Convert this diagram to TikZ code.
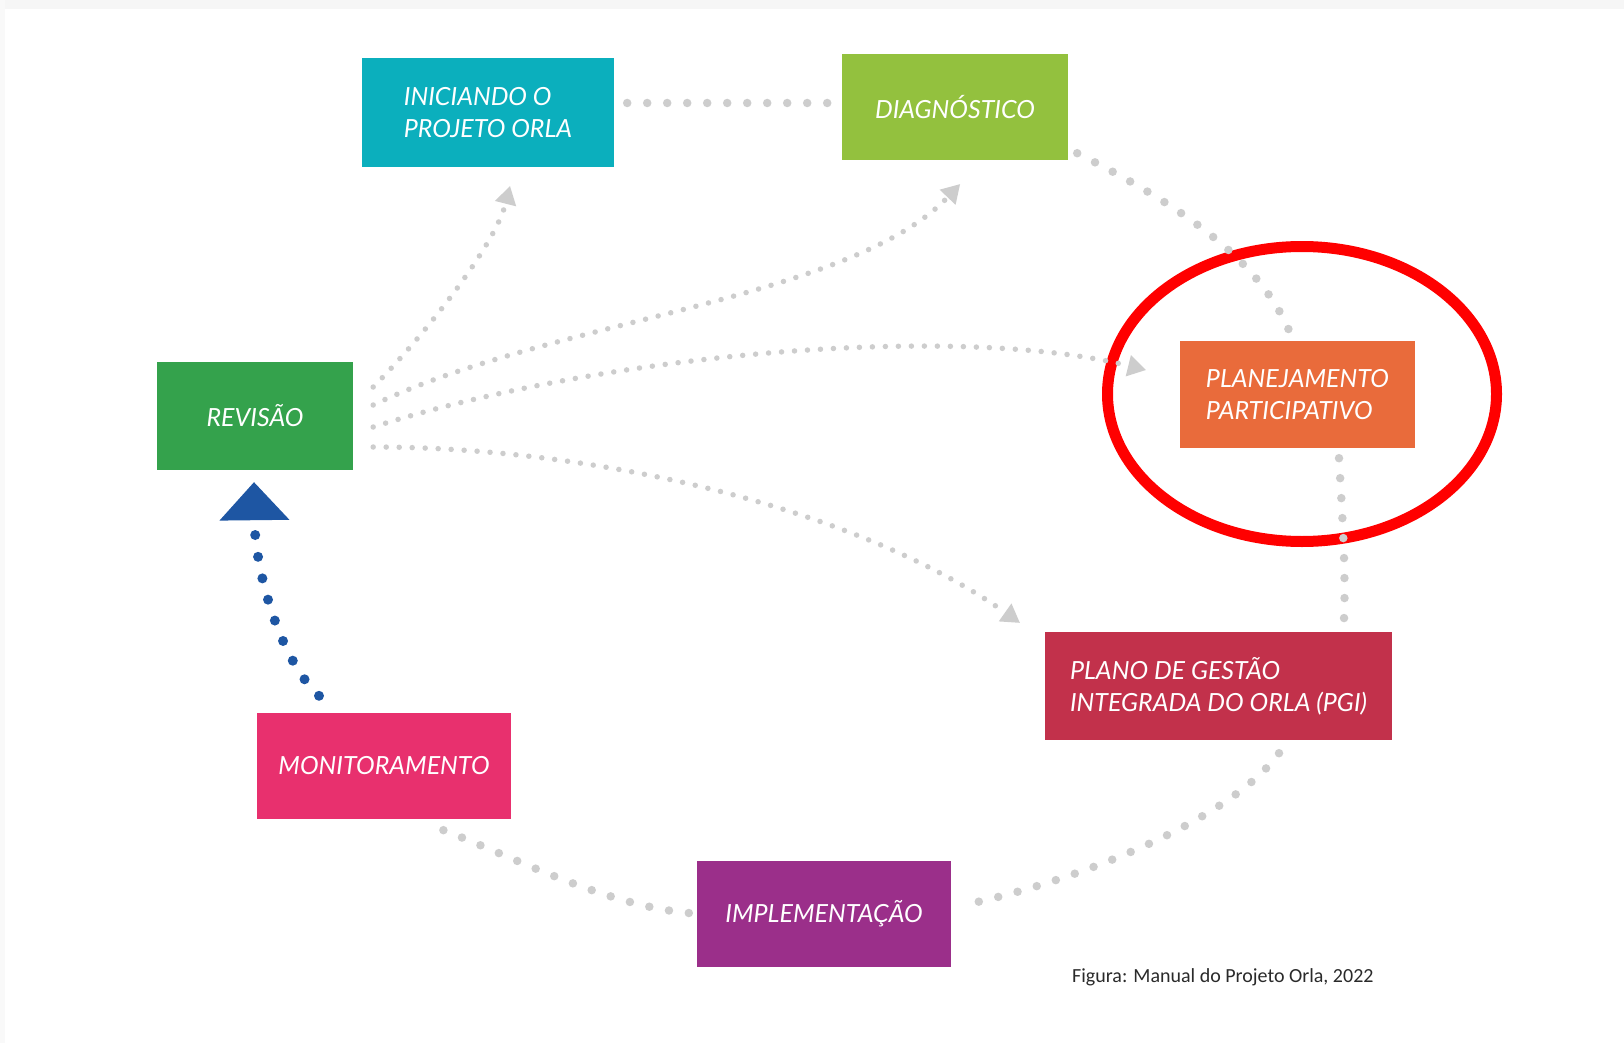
\documentclass[tikz,border=0pt]{standalone}
\usepackage{fontspec}
\newfontfamily\boxfont{Lato}
\newfontfamily\capfont{Carlito}
\usetikzlibrary{arrows.meta,shapes.geometric}
\definecolor{cIni}{HTML}{0BAFBD}
\definecolor{cDiag}{HTML}{93C13E}
\definecolor{cRev}{HTML}{34A24C}
\definecolor{cPlan}{HTML}{E96B3B}
\definecolor{cPgi}{HTML}{C2314B}
\definecolor{cMoni}{HTML}{E8306E}
\definecolor{cImpl}{HTML}{9B2F8A}
\definecolor{cBlue}{HTML}{1E56A3}
\definecolor{dotgray}{HTML}{CDCDCD}
\definecolor{cRed}{HTML}{FF0000}
\definecolor{capgray}{HTML}{2A2A2A}
\begin{document}
\begin{tikzpicture}[x=1pt,y=-1pt,
  box/.style={draw=none, inner sep=0pt, text=white, align=left,
    font=\boxfont\itshape\fontsize{25}{32}\selectfont},
  bigdots/.style={draw=dotgray, line width=8.5pt, line cap=round, dash pattern=on 0pt off 20pt},
  smalldots/.style={draw=dotgray, line width=5.5pt, line cap=round, dash pattern=on 0pt off 13pt,
    -{Triangle[length=18pt,width=22pt,line width=0pt,fill=dotgray]}},
  bluedots/.style={draw=cBlue, line width=10pt, line cap=round, dash pattern=on 0pt off 22pt,
    -{Triangle[length=38pt,width=70pt,line width=0pt,fill=cBlue]}}]
\useasboundingbox (0,0) rectangle (1624,1043);
\fill[white] (0,0) rectangle (1624,1043);
\fill[gray!7] (0,0) rectangle (1624,9);
\fill[gray!5] (0,0) rectangle (5,1043);

% boxes
\node[box, fill=cIni, minimum width=252pt, minimum height=109pt] (ini) at (488,112.5) {INICIANDO O\\PROJETO ORLA};
\node[box, fill=cDiag, minimum width=226pt, minimum height=106pt] (diag) at (955,107) {DIAGNÓSTICO};
\node[box, fill=cRev, minimum width=196pt, minimum height=108pt] (rev) at (255,416) {REVISÃO};
\node[box, fill=cPlan, minimum width=235pt, minimum height=107pt] (plan) at (1297.5,394.5) {PLANEJAMENTO\\PARTICIPATIVO};
\node[box, fill=cPgi, minimum width=347pt, minimum height=108pt] (pgi) at (1218.5,686) {PLANO DE GESTÃO\\INTEGRADA DO ORLA (PGI)};
\node[box, fill=cMoni, minimum width=254pt, minimum height=106pt] (moni) at (384,766) {MONITORAMENTO};
\node[box, fill=cImpl, minimum width=254pt, minimum height=106pt] (impl) at (824,914) {IMPLEMENTAÇÃO};

% red ellipse
\node[draw=cRed, line width=11pt, ellipse, minimum width=389pt, minimum height=295pt, inner sep=0pt] (ring) at (1302,394) {};

% cycle connectors
\draw[bigdots] ([shift={(13,-9.5)}]ini.east) -- ([shift={(-13,-4)}]diag.west);
\draw[bigdots] ([shift={(9,-7)}]diag.south east) .. controls (1180,205) and (1260,260) .. ([shift={(-7.5,-8)}]plan.north);
\draw[bigdots] ([shift={(41.5,10)}]plan.south) .. controls (1342,510) and (1346,570) .. ([shift={(125.5,-13)}]pgi.north);
\draw[bigdots] ([shift={(60.5,13)}]pgi.south) .. controls (1230,820) and (1080,880) .. ([shift={(17,-10)}]impl.east);
\draw[bigdots] ([shift={(-8,-1)}]impl.west) .. controls (600,905) and (500,850) .. ([shift={(46,6)}]moni.south);

% revision fan
\draw[smalldots] ([shift={(20,-29)}]rev.east) .. controls (425,335) and (495,245) .. ([shift={(22,19)}]ini.south);
\draw[smalldots] ([shift={(20,-11)}]rev.east) .. controls (550,320) and (850,300) .. ([shift={(5,24)}]diag.south);
\draw[smalldots] ([shift={(20,11)}]rev.east) .. controls (600,355) and (950,322) .. ([shift={(-34,-24.5)}]plan.west);
\draw[smalldots] ([shift={(20,31)}]rev.east) .. controls (600,447) and (860,510) .. ([shift={(-25,-9)}]pgi.north west);

% monitoring to revision
\draw[bluedots] ([shift={(-65,-17)}]moni.north) .. controls (280,660) and (255,570) .. ([shift={(-1,12)}]rev.south);

% caption
\node[anchor=base west, inner sep=0pt, text=capgray, font=\capfont\fontsize{20}{24}\selectfont] (cap) at (1072,982) {Figura: Manual do Projeto Orla, 2022};
\end{tikzpicture}
\end{document}
